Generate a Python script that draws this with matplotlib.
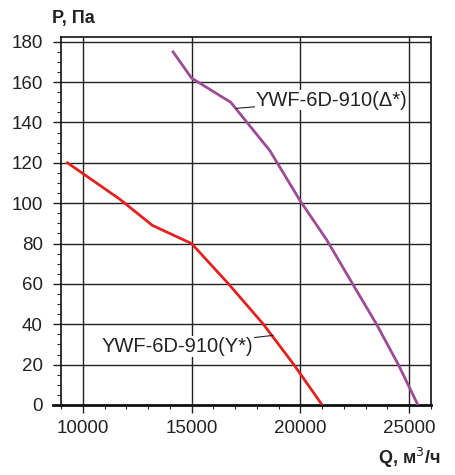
import matplotlib
matplotlib.use("Agg")
import matplotlib.pyplot as plt
from matplotlib.ticker import MultipleLocator

# curve data
q_y = [9300, 11700, 13200, 15000, 16700, 18300, 19700, 21000]
p_y = [120, 102, 89, 80, 60, 40, 20, 0]
q_d = [14150, 15000, 16800, 18600, 20000, 21200, 22400, 23500, 24500, 25400]
p_d = [175, 162, 150, 126, 101, 82, 60, 40, 20, 0]
label_y = "YWF-6D-910(Y*)"
label_d = "YWF-6D-910(\u0394*)"
x_ticks = [10000, 15000, 20000, 25000]
y_ticks = list(range(0, 181, 20))

plt.rcParams['font.family'] = ['Liberation Sans', 'DejaVu Sans']

fig = plt.figure(figsize=(4.55, 4.75), dpi=100)
ax = fig.add_axes([0.134, 0.1474, 0.8132, 0.7753])

ax.plot(q_y, p_y, color='#e3221f', lw=2.0, zorder=3)
ax.plot(q_d, p_d, color='#9c4b94', lw=2.0, zorder=3)

ax.set_xlim(9000, 26000)
ax.set_ylim(0, 182.5)
ax.set_xticks(x_ticks)
ax.set_yticks(y_ticks)
ax.xaxis.set_minor_locator(MultipleLocator(1000))
ax.yaxis.set_minor_locator(MultipleLocator(5))
ax.grid(True, which='major', color='#222222', lw=1.0)
ax.set_axisbelow(True)

ax.tick_params(which='major', direction='out', length=6, width=1.0,
               labelsize=13.5, colors='#222222')
ax.tick_params(axis='y', which='major', pad=7)
ax.tick_params(axis='x', which='major', pad=5)
ax.tick_params(which='minor', direction='out', length=3, width=0.8, colors='#222222')
for s in ax.spines.values():
    s.set_color('#111111')
    s.set_linewidth(1.2)
ax.spines['bottom'].set_linewidth(2.0)
# bottom line runs on past the left frame, like the reference
ax.plot([-0.022, 0], [0, 0], transform=ax.transAxes, clip_on=False,
        color='#111111', lw=2.0)

# curve labels with leader lines
ax.annotate(label_d, xy=(17050, 147), xytext=(17950, 151),
            fontsize=14.5, va='center', ha='left', color='#222222',
            arrowprops=dict(arrowstyle='-', color='#222222', lw=0.8,
                            shrinkA=0, shrinkB=0),
            bbox=dict(facecolor='white', edgecolor='none', pad=0.5))
ax.annotate(label_y, xy=(18750, 34.5), xytext=(17850, 29),
            fontsize=14.5, va='center', ha='right', color='#222222',
            arrowprops=dict(arrowstyle='-', color='#222222', lw=0.8,
                            shrinkA=0, shrinkB=0),
            bbox=dict(facecolor='white', edgecolor='none', pad=0.5))

fig.text(52 / 455, 1 - 18 / 475, "P, Па", fontsize=13, fontweight='bold',
         ha='left', va='center', color='#222222')
fig.text(440 / 455, 1 - 458 / 475, "Q, м$^3$/ч", fontsize=13, fontweight='bold',
         ha='right', va='center', color='#222222')

fig.savefig('out.png', dpi=100, facecolor='white')
